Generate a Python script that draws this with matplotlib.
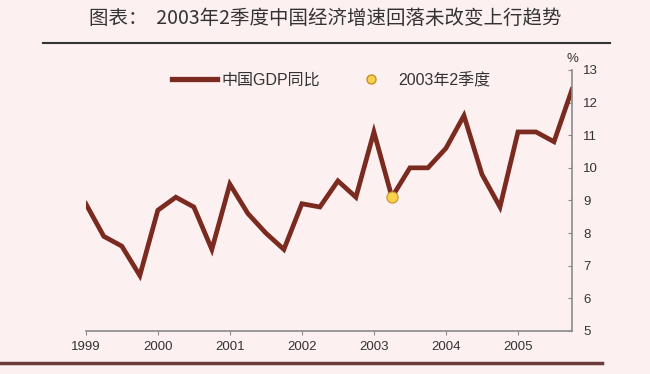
import matplotlib.pyplot as plt
from matplotlib.lines import Line2D

plt.rcParams['font.family'] = ['Liberation Sans', 'Noto Sans CJK SC', 'DejaVu Sans']

# quarterly GDP growth, 1999Q1 .. 2005Q4
quarters = [1999 + i * 0.25 for i in range(28)]
gdp_yoy = [8.9, 7.9, 7.6, 6.7,
           8.7, 9.1, 8.8, 7.5,
           9.5, 8.6, 8.0, 7.5,
           8.9, 8.8, 9.6, 9.1,
           11.1, 9.1, 10.0, 10.0,
           10.6, 11.6, 9.8, 8.8,
           11.1, 11.1, 10.8, 12.4]
highlight_x = [2003.25]
highlight_y = [9.1]
year_ticks = [1999, 2000, 2001, 2002, 2003, 2004, 2005]
y_ticks = [5, 6, 7, 8, 9, 10, 11, 12, 13]

bg = '#fdf0f0'
line_color = '#7a2a1f'
text_color = '#333333'
axis_color = '#8a8a8a'

fig = plt.figure(figsize=(6.5, 3.74), dpi=100, facecolor=bg)
ax = fig.add_axes([0.132, 0.115, 0.748, 0.698], facecolor=bg)

ax.plot(quarters, gdp_yoy, color=line_color, linewidth=3.4,
        solid_joinstyle='miter', zorder=2)
ax.scatter(highlight_x, highlight_y, s=65, color='#f7d24a',
           edgecolor='#c8902a', linewidth=0.8, zorder=3)

ax.set_xlim(1999, 2005.75)
ax.set_ylim(5, 13)
ax.set_xticks(year_ticks)
ax.set_xticklabels([str(y) for y in year_ticks])
ax.set_yticks(y_ticks)

ax.spines['top'].set_visible(False)
ax.spines['left'].set_visible(False)
ax.spines['right'].set_color(axis_color)
ax.spines['bottom'].set_color(axis_color)
ax.spines['right'].set_linewidth(1.2)
ax.spines['bottom'].set_linewidth(1.2)
ax.yaxis.tick_right()
ax.tick_params(axis='y', direction='in', length=3, color=axis_color,
               labelsize=9.5, labelcolor=text_color, pad=8)
ax.tick_params(axis='x', direction='out', length=3, color=axis_color,
               labelsize=9.5, labelcolor=text_color, pad=4)

ax.text(1.0, 1.02, '%', transform=ax.transAxes, ha='center', va='bottom',
        fontsize=9.5, color=text_color)

handles = [Line2D([], [], color=line_color, linewidth=3.8),
           Line2D([], [], marker='o', linestyle='none', markersize=6.5,
                  markerfacecolor='#f7d24a', markeredgecolor='#c8902a')]
ax.legend(handles, ['中国GDP同比', '2003年2季度'], loc='upper center',
          bbox_to_anchor=(0.505, 1.045), ncol=2, frameon=False, fontsize=11.5,
          handlelength=2.8, handletextpad=0.3, columnspacing=1.8,
          labelcolor=text_color)

fig.text(0.5, 0.95, '图表：  2003年2季度中国经济增速回落未改变上行趋势',
         ha='center', va='center', fontsize=14, color=text_color,
         family=['Noto Sans CJK SC', 'DejaVu Sans'])
fig.add_artist(Line2D([0.066, 0.938], [0.885, 0.885], color='#333333',
                      linewidth=1.5, transform=fig.transFigure))
fig.add_artist(Line2D([0.0, 0.926], [0.03, 0.03], color='#6b3a3a',
                      linewidth=2.5, transform=fig.transFigure))

fig.savefig('out.png', dpi=100, facecolor=bg)
